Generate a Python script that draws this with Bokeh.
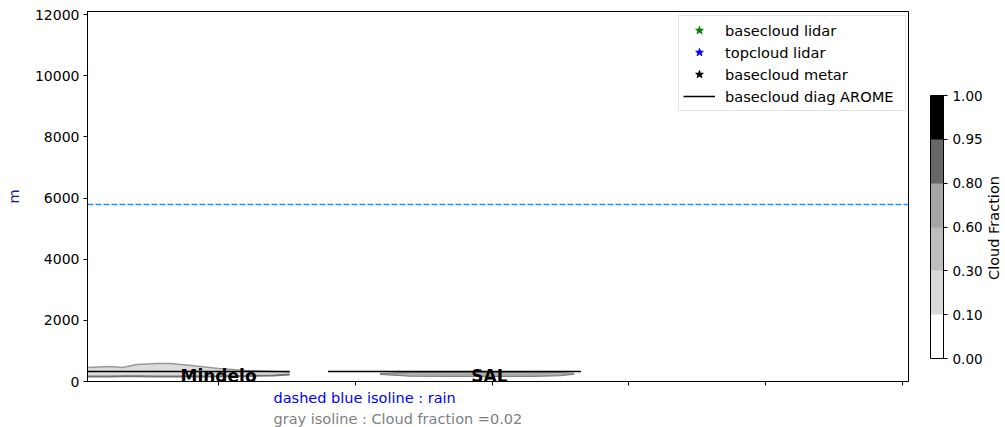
import numpy as np
from bokeh.plotting import figure
from bokeh.layouts import column, row
from bokeh.models import (Range1d, FixedTicker, ColorBar, LinearColorMapper, Label,
                          Span, Legend, LegendItem)
from bokeh.core.properties import value
from bokeh.embed import file_html
from bokeh.resources import INLINE

# ---------------- data ----------------
title_text = "20240910 12 UTC cut(Sch)"
y_ticks = [0, 2000, 4000, 6000, 8000, 10000, 12000]
x_ticks = [100, 200, 300, 400, 500, 600]

rain_level = 5790  # dashed blue isoline

# AROME diagnosed cloud base (black line), distance (km) / height (m)
diag_x = [4, 40, 80, 120, 152, np.nan, 180, 230, 280, 330, 365]
diag_y = [330, 330, 325, 330, 330, np.nan, 330, 325, 325, 330, 330]

# lidar / metar observations: none available in this cut
lidar_base_x, lidar_base_y = [np.nan], [np.nan]
lidar_top_x, lidar_top_y = [np.nan], [np.nan]
metar_x, metar_y = [np.nan], [np.nan]

# gray isoline (cloud fraction = 0.02) regions
mind_x = [4, 20, 30, 40, 55, 65, 80, 100, 120, 140, 152]
mind_top = [455, 490, 460, 555, 590, 590, 525, 425, 360, 330, 320]
mind_bot = [165, 165, 170, 170, 165, 165, 165, 170, 180, 200, 230]

sal_x = [218, 240, 270, 300, 330, 350, 360]
sal_top = [260, 300, 300, 300, 300, 295, 270]
sal_bot = [230, 175, 165, 165, 170, 190, 240]

stations = ["Mindelo", "SAL"]
station_x = [100, 298]
station_y = [190, 190]

cf_bounds = ["0.00", "0.10", "0.30", "0.60", "0.80", "0.95", "1.00"]
cf_colors = ["#ffffff", "#d9d9d9", "#bdbdbd", "#a6a6a6", "#676767", "#000000"]

notes = ["dashed blue isoline : rain", "gray isoline : Cloud fraction =0.02"]
note_colors = ["blue", "gray"]

FONT = "DejaVu Sans"


def strip(w, h):
    f = figure(width=w, height=h, output_backend="svg", toolbar_location=None,
               x_range=Range1d(0, 1), y_range=Range1d(0, 1),
               x_axis_location=None, y_axis_location=None, min_border=0)
    f.outline_line_color = None
    f.xgrid.visible = False
    f.ygrid.visible = False
    f.background_fill_color = "white"
    f.border_fill_color = "white"
    return f


# ---------------- title strip (cut at top as in original) ----------------
top = strip(1005, 6)
top.add_layout(Label(x=497.5, y=-8, x_units="screen", y_units="screen", text=title_text,
                     text_font=FONT, text_font_size="23px", text_color="#14148c",
                     text_align="center", text_baseline="bottom"))

# ---------------- main plot ----------------
p = figure(width=909, height=383, output_backend="svg", toolbar_location=None,
           x_range=Range1d(4.2, 604.4), y_range=Range1d(0, 12100))
p.min_border_left = 87
p.min_border_top = 5
p.min_border_bottom = 8
p.min_border_right = 1
p.xgrid.visible = False
p.ygrid.visible = False
p.outline_line_color = "black"
p.outline_line_width = 1
p.background_fill_color = "white"
p.border_fill_color = "white"

p.yaxis.ticker = FixedTicker(ticks=y_ticks)
p.xaxis.ticker = FixedTicker(ticks=x_ticks)
p.xaxis.major_label_overrides = {t: "" for t in x_ticks}
for ax in (p.xaxis, p.yaxis):
    ax.axis_line_color = "black"
    ax.major_tick_line_color = "black"
    ax.major_tick_out = 4
    ax.major_tick_in = 0
    ax.minor_tick_line_color = None
    ax.major_label_text_font = FONT
    ax.major_label_text_font_size = "14px"
    ax.major_label_text_color = "black"
p.xaxis.major_label_standoff = 0
p.xaxis.major_label_text_font_size = "0px"
p.yaxis.major_label_standoff = 4
p.yaxis.axis_label = "m"
p.yaxis.axis_label_text_font = FONT
p.yaxis.axis_label_text_font_size = "14.5px"
p.yaxis.axis_label_text_font_style = "normal"
p.yaxis.axis_label_text_color = "#1a1a8c"
p.yaxis.axis_label_standoff = 10

p.add_layout(Span(location=rain_level, dimension="width", line_color="#1e90ff",
                  line_width=1.5, line_dash="6 2"))

p.varea(x=mind_x, y1=mind_bot, y2=mind_top, fill_color="#c4c4c4", fill_alpha=0.6)
p.line(mind_x, mind_top, line_color="#999999", line_width=1.5)
p.line(mind_x, mind_bot, line_color="#707070", line_width=2)
p.varea(x=sal_x, y1=sal_bot, y2=sal_top, fill_color="#9a9a9a", fill_alpha=0.8)
p.line(sal_x, sal_top, line_color="#808080", line_width=1.2)
p.line(sal_x, sal_bot, line_color="#808080", line_width=1.2)

r1 = p.scatter(x=lidar_base_x, y=lidar_base_y, marker="star", size=13, color="green")
r2 = p.scatter(x=lidar_top_x, y=lidar_top_y, marker="star", size=13, color="blue")
r3 = p.scatter(x=metar_x, y=metar_y, marker="star", size=13, color="black")
r4 = p.line(diag_x, diag_y, line_color="black", line_width=1.5)

legend = Legend(items=[LegendItem(label="basecloud lidar", renderers=[r1]),
                       LegendItem(label="topcloud lidar", renderers=[r2]),
                       LegendItem(label="basecloud metar", renderers=[r3]),
                       LegendItem(label="basecloud diag AROME", renderers=[r4])],
                location=(591, 270))
legend.label_text_font = FONT
legend.label_text_font_size = "14.6px"
legend.label_text_color = "black"
legend.glyph_width = 32
legend.glyph_height = 20
legend.spacing = 2
legend.padding = 4
legend.margin = 0
legend.label_standoff = 10
legend.label_height = 20
legend.label_width = 176
legend.border_line_color = "#cccccc"
legend.border_line_width = 1
legend.background_fill_alpha = 0.9
p.add_layout(legend)

for name, sx, sy in zip(stations, station_x, station_y):
    p.text(x=[sx], y=[sy], text=[name], text_font=value(FONT), text_font_size="17px",
           text_font_style="bold", text_align="center", text_baseline="middle",
           text_color="black")

# ---------------- colorbar panel ----------------
side = strip(96, 383)
mapper = LinearColorMapper(palette=cf_colors, low=0, high=6)
cb = ColorBar(color_mapper=mapper, ticker=FixedTicker(ticks=list(range(7))),
              major_label_overrides={i: s for i, s in enumerate(cf_bounds)},
              width=13, height=263, location=(21, 23),
              margin=0, padding=0, bar_line_color="black",
              major_tick_line_color="black", major_tick_in=0, major_tick_out=4,
              major_label_text_font=FONT, major_label_text_font_size="13.5px",
              major_label_text_color="black", label_standoff=5,
              background_fill_color="white", border_line_color=None)
side.add_layout(cb)
side.add_layout(Label(x=84, y=153.5, x_units="screen", y_units="screen",
                      text="Cloud Fraction", text_font=FONT, text_font_size="14.5px",
                      text_color="black", angle=np.pi / 2, text_align="center",
                      text_baseline="middle"))

# ---------------- footer notes ----------------
foot = strip(1005, 38)
for txt, col, yy in zip(notes, note_colors, [30, 9]):
    foot.add_layout(Label(x=273, y=yy, x_units="screen", y_units="screen", text=txt,
                          text_font=FONT, text_font_size="14.5px", text_color=col,
                          text_baseline="middle"))

layout = column(top, row(p, side, spacing=0), foot, spacing=0)

open("out.html", "w").write(file_html(layout, INLINE))
